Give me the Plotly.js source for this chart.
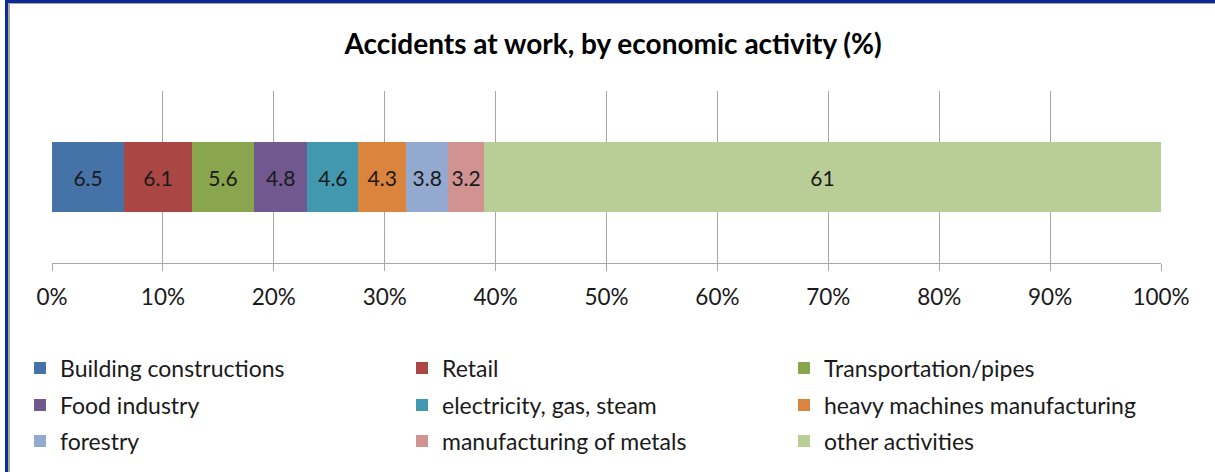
<!DOCTYPE html>
<html>
<head>
<meta charset="utf-8">
<script src="https://cdn.plot.ly/plotly-3.0.1.min.js"></script>
<style>
  html, body { margin: 0; padding: 0; background: #ffffff; }
  #chart { position: absolute; left: 0; top: 0; width: 1215px; height: 472px; }
  .frame { position: absolute; pointer-events: none; }
</style>
</head>
<body>
<div id="chart"></div>
<div class="frame" style="left:5px;top:0;width:1210px;height:3px;background:#0b2a94;"></div>
<div class="frame" style="left:5px;top:0;width:3px;height:472px;background:#0b2a94;"></div>
<div class="frame" style="left:8px;top:3px;width:1207px;height:1px;background:#a6a6a6;"></div>
<div class="frame" style="left:8px;top:3px;width:2px;height:469px;background:#a6a6a6;"></div>
<script>
const categories = ["Building constructions", "Retail", "Transportation/pipes",
  "Food industry", "electricity, gas, steam", "heavy machines manufacturing",
  "forestry", "manufacturing of metals", "other activities"];
const values = [6.5, 6.1, 5.6, 4.8, 4.6, 4.3, 3.8, 3.2, 61];
const colors = ["#4572A7", "#AA4643", "#89A54E", "#71588F", "#4198AF",
  "#DB843D", "#93A9CF", "#D19392", "#B9CD96"];
const tickVals = [0, 10, 20, 30, 40, 50, 60, 70, 80, 90, 100];
const tickText = ["0%", "10%", "20%", "30%", "40%", "50%", "60%", "70%", "80%", "90%", "100%"];
const legendIds = ["legend", "legend", "legend", "legend2", "legend2", "legend2", "legend3", "legend3", "legend3"];

const FONT = "Lato, 'Open Sans', sans-serif";
const TXT = "#1a1a1a";

const data = categories.map((name, i) => ({
  type: "bar",
  orientation: "h",
  name: name,
  x: [values[i]],
  y: ["all"],
  text: [String(values[i])],
  texttemplate: "%{text}",
  textposition: "inside",
  insidetextanchor: "middle",
  textangle: 0,
  textfont: { family: FONT, size: 21, color: TXT },
  marker: { color: colors[i], line: { width: 0 } },
  legend: legendIds[i],
  hoverinfo: "skip"
}));

const gs = { l: 52, r: 54, t: 91, b: 208 };
const plotH = 472 - gs.t - gs.b;
function py(pix) { return (472 - gs.b - pix) / plotH; }
const legX = (20 - gs.l) / (1215 - gs.l - gs.r);

function legendRow(centerY) {
  return {
    orientation: "h",
    x: legX, xanchor: "left",
    y: py(centerY), yanchor: "middle",
    font: { family: FONT, size: 23, color: TXT },
    entrywidth: 337,
    entrywidthmode: "pixels",
    bgcolor: "rgba(0,0,0,0)",
    borderwidth: 0,
    traceorder: "normal",
    itemclick: false, itemdoubleclick: false
  };
}

const layout = {
  width: 1215, height: 472,
  margin: gs,
  paper_bgcolor: "#ffffff",
  plot_bgcolor: "#ffffff",
  barmode: "stack",
  barnorm: "percent",
  bargap: 0.595,
  showlegend: true,
  title: {
    text: "<b>Accidents at work, by economic activity (%)</b>",
    font: { family: FONT, size: 28, color: "#000000" },
    xref: "container", x: 613 / 1215, xanchor: "center",
    yref: "container", y: 1 - 44 / 472, yanchor: "middle"
  },
  uniformtext: { mode: "show", minsize: 21 },
  xaxis: {
    range: [0, 100],
    tickvals: tickVals,
    ticktext: tickText,
    showgrid: true,
    gridcolor: "#a6a6a6",
    gridwidth: 1,
    zeroline: false,
    showline: true,
    linecolor: "#a6a6a6",
    linewidth: 1,
    ticks: "outside",
    ticklen: 7,
    tickcolor: "#a6a6a6",
    ticklabelstandoff: 7,
    tickfont: { family: FONT, size: 22.5, color: TXT },
    fixedrange: true
  },
  yaxis: {
    showticklabels: false,
    showgrid: false,
    zeroline: false,
    showline: false,
    ticks: "",
    fixedrange: true
  },
  legend: legendRow(368),
  legend2: legendRow(405),
  legend3: legendRow(441)
};

Plotly.newPlot("chart", data, layout, { displayModeBar: false, staticPlot: true });
</script>
</body>
</html>
